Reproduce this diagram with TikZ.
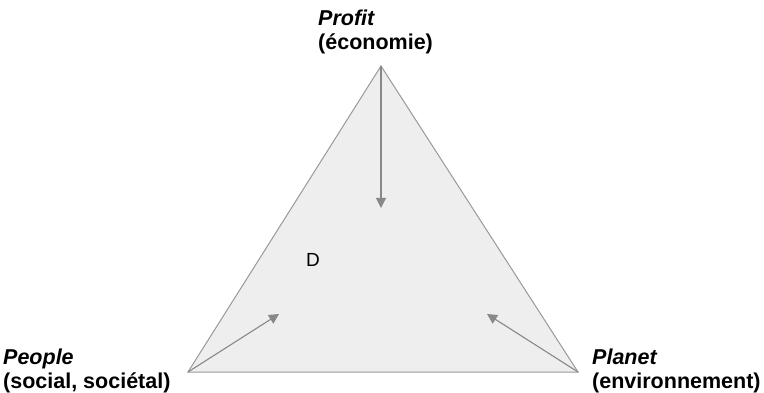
\documentclass[tikz,border=0pt]{standalone}
\usepackage{fontspec}
\setmainfont{Liberation Sans}
\usetikzlibrary{arrows.meta}
\definecolor{tfill}{HTML}{EEEEEE}
\definecolor{tline}{HTML}{999999}
\definecolor{aline}{HTML}{888888}
\tikzset{
  lbl/.style={anchor=base west, inner sep=0pt, font=\fontsize{21.5}{26}\selectfont\bfseries},
  arr/.style={draw=aline, line width=1.1pt, -{Triangle[length=10pt,width=10pt]}},
}
\begin{document}
\begin{tikzpicture}[x=1pt,y=-1pt]
\useasboundingbox (0,0) rectangle (764,393);
\coordinate (top) at (381,66);
\coordinate (bl) at (188,372);
\coordinate (br) at (578,372);
\fill[tfill] (top) -- (bl) -- (br) -- cycle;
\draw[tline, line width=1pt, line join=miter] (top) -- (bl) -- (br) -- cycle;
\coordinate (a1) at (381,208);
\coordinate (a2) at (279,314);
\coordinate (a3) at (487,314);
\draw[arr] (top) -- (a1);
\draw[arr] (bl) -- (a2);
\draw[arr] (br) -- (a3);
\node[lbl] (profit) at (318,26) {\itshape Profit};
\node[lbl] (eco) at (318,50) {(économie)};
\node[lbl] (people) at (3,364) {\itshape People};
\node[lbl] (social) at (3,388) {(social, sociétal)};
\node[lbl] (planet) at (592,364) {\itshape Planet};
\node[lbl] (env) at (592,388) {(environnement)};
\node[anchor=base west, inner sep=0pt, font=\fontsize{19}{22}\selectfont] (d) at (306,266) {D};
\end{tikzpicture}
\end{document}
